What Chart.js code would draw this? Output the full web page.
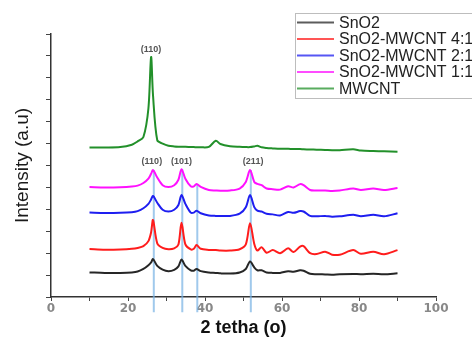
<!DOCTYPE html>
<html>
<head>
<meta charset="utf-8">
<script src="https://cdn.jsdelivr.net/npm/chart.js"></script>
<style>
  html, body { margin: 0; padding: 0; background: #fff; }
  #wrap { width: 472px; height: 337px; position: relative; }
</style>
</head>
<body>
<div id="wrap"><canvas id="xrdChart" width="472" height="337"></canvas></div>
<script>
// 2 theta grid (degrees) shared by all patterns
const twoTheta = [10, 14, 18, 21, 22.5, 24, 25.3, 26, 26.5, 27.6, 29, 30.5, 32, 33.1, 33.9, 34.9, 36.3, 37.1, 37.8, 38.9,
  41, 42.8, 44, 46.5, 49, 50.6, 51.7, 52.8, 53.6, 54.7, 56, 57.6, 59.5, 61.6, 63, 64.7, 65.6, 67.3, 69, 71.2,
  73, 75, 78.5, 80.5, 83.7, 86.5, 90];

// intensities (offset, a.u.)
const sno2 = [1.12, 1.1, 1.1, 1.12, 1.16, 1.28, 1.45, 1.58, 1.73, 1.42, 1.25, 1.18, 1.24, 1.4, 1.71, 1.42, 1.22, 1.2, 1.28, 1.18,
  1.12, 1.1, 1.08, 1.07, 1.12, 1.28, 1.62, 1.35, 1.22, 1.22, 1.12, 1.1, 1.1, 1.18, 1.15, 1.22, 1.2, 1.06, 1.04, 1.03,
  1.02, 1.04, 1.05, 1.04, 1.06, 1.04, 1.08];
const mix41 = [2.19, 2.16, 2.17, 2.2, 2.24, 2.32, 2.55, 2.95, 3.51, 2.45, 2.24, 2.18, 2.22, 2.4, 3.39, 2.4, 2.17, 2.2, 2.37, 2.2,
  2.15, 2.14, 2.12, 2.12, 2.18, 2.4, 3.36, 2.42, 2.12, 2.27, 2.02, 2.14, 2.0, 2.22, 2.05, 2.3, 2.32, 2.0, 1.96, 2.07,
  1.93, 1.93, 2.14, 1.97, 2.07, 1.95, 2.14];
const mix21 = [3.85, 3.83, 3.84, 3.87, 3.92, 4.05, 4.25, 4.45, 4.61, 4.3, 3.98, 3.9, 3.98, 4.2, 4.65, 4.25, 3.85, 3.85, 3.94, 3.82,
  3.72, 3.7, 3.7, 3.7, 3.8, 4.1, 4.65, 4.1, 3.94, 3.9, 3.8, 3.77, 3.72, 3.88, 3.84, 3.92, 3.9, 3.7, 3.68, 3.7,
  3.66, 3.68, 3.75, 3.68, 3.75, 3.68, 3.82];
const mix11 = [5.02, 5.0, 5.01, 5.04, 5.08, 5.2, 5.4, 5.62, 5.79, 5.45, 5.1, 5.02, 5.1, 5.35, 5.83, 5.4, 5.05, 5.05, 5.16, 5.02,
  4.88, 4.86, 4.85, 4.86, 4.95, 5.25, 5.79, 5.25, 5.16, 5.1, 4.95, 4.92, 4.9, 5.05, 5.0, 5.15, 5.1, 4.88, 4.86, 4.86,
  4.84, 4.86, 4.95, 4.88, 4.95, 4.88, 4.97];
const mwcnt = [6.82, 6.82, 6.84, 6.95, 7.1, 7.3, 8.6, 10.95, 9.2, 7.15, 7.0, 6.9, 6.87, 6.86, 6.86, 6.85, 6.84, 6.84, 6.83, 6.83,
  6.85, 7.13, 6.98, 6.88, 6.85, 6.84, 6.84, 6.87, 6.9, 6.83, 6.8, 6.78, 6.76, 6.76, 6.75, 6.75, 6.74, 6.73, 6.72, 6.71,
  6.7, 6.7, 6.74, 6.68, 6.66, 6.65, 6.63];

const seriesNames = ['SnO2', 'SnO2-MWCNT 4:1', 'SnO2-MWCNT 2:1', 'SnO2-MWCNT 1:1', 'MWCNT'];
const seriesColors = ['#262626', '#ff1c1c', '#1e1ef0', '#ff10ff', '#22902a'];
const seriesValues = [sno2, mix41, mix21, mix11, mwcnt];

// reference lines of the SnO2 reflections
const refLineX = [26.7, 34.1, 38.0, 51.9];
const refLineTop = [5.79, 5.83, 5.16, 5.79];
const refLineBottom = -0.7;

// Miller index labels
const peakLabels = ['(110)', '(110)', '(101)', '(211)'];
const peakLabelX = [26.0, 26.2, 33.9, 52.5];
const peakLabelY = [11.27, 6.17, 6.17, 6.17];

const curveSets = seriesNames.map((name, i) => ({
  label: name,
  data: twoTheta.map((t, j) => ({ x: t, y: seriesValues[i][j] })),
  borderColor: seriesColors[i],
  borderWidth: 2,
  pointRadius: 0,
  tension: 0.3,
  fill: false,
  order: 1
}));

const refSets = refLineX.map((t, i) => ({
  label: 'ref',
  data: [{ x: t, y: refLineTop[i] }, { x: t, y: refLineBottom }],
  borderColor: 'rgba(120,178,228,0.7)',
  borderWidth: 2,
  pointRadius: 0,
  clip: false,
  order: 10
}));

const overlay = {
  id: 'overlay',
  afterDatasetsDraw(chart) {
    const { ctx, scales: { x, y } } = chart;
    ctx.save();
    ctx.font = 'bold 9px "Liberation Sans", Arial, sans-serif';
    ctx.fillStyle = '#555';
    ctx.textAlign = 'center';
    ctx.textBaseline = 'middle';
    peakLabels.forEach((t, i) => {
      ctx.fillText(t, x.getPixelForValue(peakLabelX[i]), y.getPixelForValue(peakLabelY[i]));
    });
    ctx.restore();
  },
  afterDraw(chart) {
    // legend box, runs past the right edge like the original
    const ctx = chart.ctx;
    ctx.save();
    ctx.strokeStyle = '#bdbdbd';
    ctx.lineWidth = 1;
    ctx.strokeRect(295.5, 13.5, 200, 85);
    ctx.font = '16px "Liberation Sans", Arial, sans-serif';
    ctx.textBaseline = 'middle';
    ctx.textAlign = 'left';
    seriesNames.forEach((name, i) => {
      const yy = 22.5 + i * 16.5;
      ctx.strokeStyle = seriesColors[i];
      ctx.globalAlpha = 0.75;
      ctx.lineWidth = 2;
      ctx.beginPath();
      ctx.moveTo(297, yy);
      ctx.lineTo(334, yy);
      ctx.stroke();
      ctx.globalAlpha = 1;
      ctx.fillStyle = '#222';
      ctx.fillText(name, 339, yy + 1);
    });
    ctx.restore();
  }
};

new Chart(document.getElementById('xrdChart'), {
  type: 'line',
  data: { datasets: [...curveSets, ...refSets] },
  options: {
    responsive: false,
    animation: false,
    layout: { padding: { top: 34, right: 36, bottom: 0, left: 0 } },
    plugins: {
      legend: { display: false },
      tooltip: { enabled: false }
    },
    scales: {
      x: {
        type: 'linear',
        min: 0,
        max: 100,
        afterFit: s => { s.height = 40; },
        ticks: {
          stepSize: 10,
          autoSkip: false,
          maxRotation: 0,
          padding: 1,
          color: '#888',
          font: { family: 'DejaVu Sans', size: 12, weight: 'bold' },
          callback: v => (v % 20 === 0 ? v : '')
        },
        grid: { drawOnChartArea: false, drawTicks: true, tickLength: 4, color: '#444' },
        border: { color: '#333', width: 1.5 },
        title: {
          display: true,
          text: '2 tetha (o)',
          color: '#111',
          font: { family: 'Liberation Sans', size: 18, weight: 'bold', lineHeight: 1 },
          padding: { top: 0, bottom: 0 }
        }
      },
      y: {
        min: 0,
        max: 12,
        afterFit: s => { s.width = 51; },
        ticks: { stepSize: 1, display: false },
        grid: { drawOnChartArea: false, drawTicks: true, tickLength: 5, color: '#444' },
        border: { color: '#333', width: 1.5 },
        title: {
          display: true,
          text: 'Intensity (a.u)',
          color: '#1a1a1a',
          font: { family: 'Liberation Sans', size: 19, lineHeight: 1.2 },
          padding: { top: 11, bottom: 0 }
        }
      }
    }
  },
  plugins: [overlay]
});
</script>
</body>
</html>
